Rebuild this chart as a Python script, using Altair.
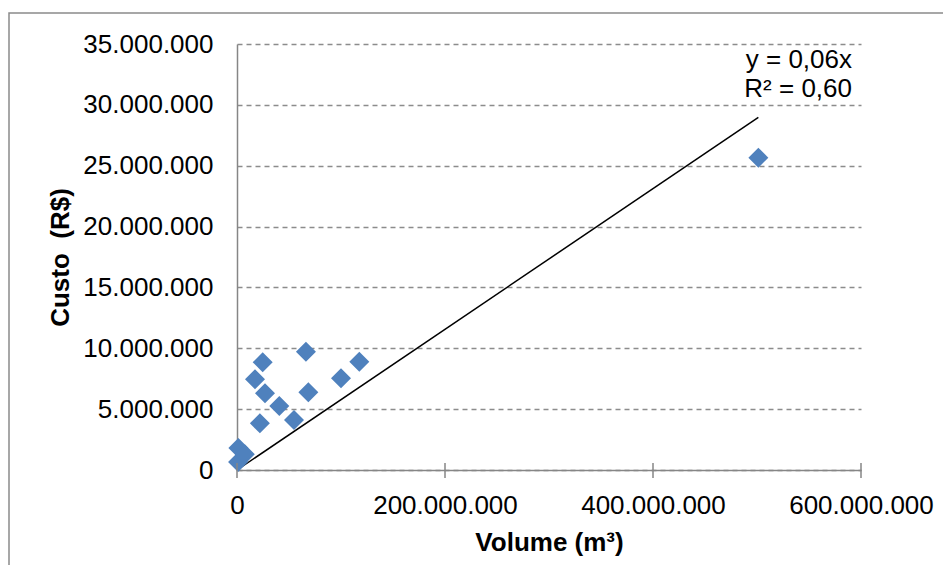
import altair as alt
import pandas as pd

# ---- data ----
volume_m3 = [1.0e6, 1.3e6, 7.5e6, 22.0e6, 24.7e6, 17.3e6, 26.9e6, 40.7e6,
             54.8e6, 66.3e6, 68.6e6, 100.0e6, 117.6e6, 501.3e6]
custo_rs = [0.65e6, 1.80e6, 1.30e6, 3.84e6, 8.85e6, 7.45e6, 6.30e6, 5.26e6,
            4.10e6, 9.72e6, 6.38e6, 7.53e6, 8.90e6, 25.66e6]

trend_slope = 0.0578          # displayed as y = 0,06x
trend_x = [0.0, 501.3e6]
trend_y = [0.0, 0.0578 * 501.3e6]

x_ticks = [0, 200e6, 400e6, 600e6]
y_ticks = [0, 5e6, 10e6, 15e6, 20e6, 25e6, 30e6, 35e6]
equation_lines = ["y = 0,06x", "R² = 0,60"]

x_title = "Volume (m³)"
y_title = "Custo \u00a0(R$)"

FONT = "Liberation Sans"
FS = 26
label_expr = "replace(format(datum.value, ','), regexp(',', 'g'), '.')"

x_scale = alt.Scale(domain=[0, 600e6], nice=False, zero=True)
y_scale = alt.Scale(domain=[0, 35e6], nice=False, zero=True)

x_axis = alt.Axis(values=x_ticks, labelExpr=label_expr, grid=False, ticks=False,
                  domainColor="#868686", domainWidth=1.5, labelPadding=22,
                  labelFont=FONT, labelFontSize=FS, labelColor="black",
                  titleFont=FONT, titleFontSize=FS, titleFontWeight="bold",
                  titleColor="black", titleY=80, titleBaseline="alphabetic",
                  labelFlush=False, labelOverlap=False)
y_axis = alt.Axis(values=y_ticks, labelExpr=label_expr, grid=True,
                  gridColor="#8c8c8c", gridDash=[5, 4], gridWidth=1.5,
                  ticks=False, domainColor="#868686", domainWidth=1.5,
                  labelPadding=24, labelFont=FONT, labelFontSize=FS,
                  labelColor="black", titleFont=FONT, titleFontSize=FS,
                  titleFontWeight="bold", titleColor="black", titleX=-169,
                  titleBaseline="alphabetic", labelFlush=False,
                  labelOverlap=False)


def xe(field):
    return alt.X(f"{field}:Q", scale=x_scale, axis=x_axis, title=x_title)


def ye(field):
    return alt.Y(f"{field}:Q", scale=y_scale, axis=y_axis, title=y_title)


points_df = pd.DataFrame({"volume": volume_m3, "custo": custo_rs})
trend_df = pd.DataFrame({"volume": trend_x, "custo": trend_y})
ticks_df = pd.DataFrame({"volume": x_ticks})

border = alt.Chart(pd.DataFrame({"a": [0]})).mark_rect(
    filled=False, stroke="#8a8a8a", strokeWidth=1.5
).encode(x=alt.value(-228), x2=alt.value(900), y=alt.value(-31), y2=alt.value(700))

points = alt.Chart(points_df).mark_point(
    shape="diamond", filled=True, size=400, color="#4F81BD", opacity=1
).encode(x=xe("volume"), y=ye("custo"))

trend = alt.Chart(trend_df).mark_line(color="black", strokeWidth=1.5).encode(
    x=xe("volume"), y=ye("custo"))

tick_rules = alt.Chart(ticks_df).mark_rule(color="#868686", strokeWidth=1.5).encode(
    x=xe("volume"), y=alt.value(419), y2=alt.value(434))

eq = alt.Chart(pd.DataFrame({"t": ["\n".join(equation_lines)]})).mark_text(
    align="right", baseline="alphabetic", font=FONT, fontSize=FS,
    lineBreak="\n", lineHeight=29, color="black"
).encode(x=alt.value(615), y=alt.value(24), text="t:N")

chart = alt.layer(border, trend, points, tick_rules, eq).properties(
    width=624, height=426,
    padding={"left": 229, "top": 36, "right": 82, "bottom": 95},
    autosize=alt.AutoSizeParams(type="none"),
    background="white",
).configure_view(stroke=None)

chart.save("out.html", embed_options={"renderer": "svg", "actions": False})
